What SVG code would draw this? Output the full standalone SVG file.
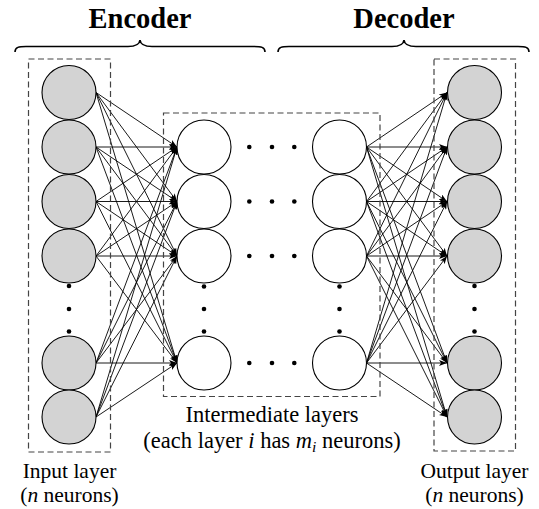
<svg xmlns="http://www.w3.org/2000/svg" width="539" height="509" viewBox="0 0 539 509">
<style>
.bg{fill:#fff}
.box{fill:none;stroke:#444;stroke-width:1.2;stroke-dasharray:6,3.5}
.in{fill:#d3d3d3;stroke:#000;stroke-width:1.1}
.mid{fill:#fff;stroke:#000;stroke-width:1.1}
.dot{fill:#000}
.edge{stroke:#000;stroke-width:0.9;fill:none;marker-end:url(#ah)}
.brace{fill:none;stroke:#000;stroke-width:1.6}
.title{font-family:"Liberation Serif",serif;font-weight:bold;font-size:28.5px;text-anchor:middle;fill:#000}
.lbl{font-family:"Liberation Serif",serif;font-size:21.5px;text-anchor:middle;fill:#000}
.lbl2{font-size:22.5px}
.m{font-style:italic}
</style>
<defs>
<marker id="ah" viewBox="0 0 8 6" refX="8" refY="3" markerWidth="8" markerHeight="6" markerUnits="userSpaceOnUse" orient="auto">
<path d="M0,0 L8,3 L0,6 L2,3 z" fill="#000"/>
</marker>
</defs>
<rect class="bg" width="539" height="509"/>

<g id="encoder-label">
<text class="title" x="140" y="27.5">Encoder</text>
<path class="brace" d="M15,52 C15,47 19,46.5 26,46.5 L128,46.5 C135,46.5 139.5,45 140,40 C140.5,45 145,46.5 152,46.5 L254,46.5 C261,46.5 265,47 265,52"/>
</g>
<g id="decoder-label">
<text class="title" x="404" y="27.5">Decoder</text>
<path class="brace" d="M278,52 C278,47 282,46.5 289,46.5 L392,46.5 C399,46.5 403.5,45 404,40 C404.5,45 409,46.5 416,46.5 L518,46.5 C525,46.5 529,47 529,52"/>
</g>

<g id="connectors">
<line class="edge" x1="96" y1="92.5" x2="177" y2="147"/>
<line class="edge" x1="96" y1="92.5" x2="177" y2="201.5"/>
<line class="edge" x1="96" y1="92.5" x2="177" y2="256"/>
<line class="edge" x1="96" y1="92.5" x2="177" y2="363"/>
<line class="edge" x1="96" y1="147" x2="177" y2="147"/>
<line class="edge" x1="96" y1="147" x2="177" y2="201.5"/>
<line class="edge" x1="96" y1="147" x2="177" y2="256"/>
<line class="edge" x1="96" y1="147" x2="177" y2="363"/>
<line class="edge" x1="96" y1="201.5" x2="177" y2="147"/>
<line class="edge" x1="96" y1="201.5" x2="177" y2="201.5"/>
<line class="edge" x1="96" y1="201.5" x2="177" y2="256"/>
<line class="edge" x1="96" y1="201.5" x2="177" y2="363"/>
<line class="edge" x1="96" y1="256" x2="177" y2="147"/>
<line class="edge" x1="96" y1="256" x2="177" y2="201.5"/>
<line class="edge" x1="96" y1="256" x2="177" y2="256"/>
<line class="edge" x1="96" y1="256" x2="177" y2="363"/>
<line class="edge" x1="96" y1="363" x2="177" y2="147"/>
<line class="edge" x1="96" y1="363" x2="177" y2="201.5"/>
<line class="edge" x1="96" y1="363" x2="177" y2="256"/>
<line class="edge" x1="96" y1="363" x2="177" y2="363"/>
<line class="edge" x1="96" y1="417" x2="177" y2="147"/>
<line class="edge" x1="96" y1="417" x2="177" y2="201.5"/>
<line class="edge" x1="96" y1="417" x2="177" y2="256"/>
<line class="edge" x1="96" y1="417" x2="177" y2="363"/>
<line class="edge" x1="366.5" y1="147" x2="447" y2="92.5"/>
<line class="edge" x1="366.5" y1="147" x2="447" y2="147"/>
<line class="edge" x1="366.5" y1="147" x2="447" y2="201.5"/>
<line class="edge" x1="366.5" y1="147" x2="447" y2="256"/>
<line class="edge" x1="366.5" y1="147" x2="447" y2="363"/>
<line class="edge" x1="366.5" y1="147" x2="447" y2="417"/>
<line class="edge" x1="366.5" y1="201.5" x2="447" y2="92.5"/>
<line class="edge" x1="366.5" y1="201.5" x2="447" y2="147"/>
<line class="edge" x1="366.5" y1="201.5" x2="447" y2="201.5"/>
<line class="edge" x1="366.5" y1="201.5" x2="447" y2="256"/>
<line class="edge" x1="366.5" y1="201.5" x2="447" y2="363"/>
<line class="edge" x1="366.5" y1="201.5" x2="447" y2="417"/>
<line class="edge" x1="366.5" y1="256" x2="447" y2="92.5"/>
<line class="edge" x1="366.5" y1="256" x2="447" y2="147"/>
<line class="edge" x1="366.5" y1="256" x2="447" y2="201.5"/>
<line class="edge" x1="366.5" y1="256" x2="447" y2="256"/>
<line class="edge" x1="366.5" y1="256" x2="447" y2="363"/>
<line class="edge" x1="366.5" y1="256" x2="447" y2="417"/>
<line class="edge" x1="366.5" y1="363" x2="447" y2="92.5"/>
<line class="edge" x1="366.5" y1="363" x2="447" y2="147"/>
<line class="edge" x1="366.5" y1="363" x2="447" y2="201.5"/>
<line class="edge" x1="366.5" y1="363" x2="447" y2="256"/>
<line class="edge" x1="366.5" y1="363" x2="447" y2="363"/>
<line class="edge" x1="366.5" y1="363" x2="447" y2="417"/>
</g>

<g id="input-layer">
<rect class="box" x="28.5" y="59" width="82" height="393"/>
<circle class="in" cx="69" cy="92.5" r="27"/>
<circle class="in" cx="69" cy="147" r="27"/>
<circle class="in" cx="69" cy="201.5" r="27"/>
<circle class="in" cx="69" cy="256" r="27"/>
<circle class="dot" cx="69" cy="286" r="2.3"/>
<circle class="dot" cx="69" cy="309" r="2.3"/>
<circle class="dot" cx="69" cy="331.5" r="2.3"/>
<circle class="in" cx="69" cy="363" r="27"/>
<circle class="in" cx="69" cy="417" r="27"/>
<text class="lbl" x="69.5" y="478">Input layer</text>
<text class="lbl" x="69.5" y="502">(<tspan class="m">n</tspan> neurons)</text>
</g>

<g id="intermediate-layers">
<rect class="box" x="163.5" y="113" width="216.5" height="283.5"/>
<circle class="mid" cx="204" cy="147" r="27"/>
<circle class="mid" cx="204" cy="201.5" r="27"/>
<circle class="mid" cx="204" cy="256" r="27"/>
<circle class="mid" cx="204" cy="363" r="27"/>
<circle class="mid" cx="339.5" cy="147" r="27"/>
<circle class="mid" cx="339.5" cy="201.5" r="27"/>
<circle class="mid" cx="339.5" cy="256" r="27"/>
<circle class="mid" cx="339.5" cy="363" r="27"/>
<circle class="dot" cx="204" cy="286.5" r="2.3"/>
<circle class="dot" cx="204" cy="309" r="2.3"/>
<circle class="dot" cx="204" cy="331.5" r="2.3"/>
<circle class="dot" cx="339.5" cy="286.5" r="2.3"/>
<circle class="dot" cx="339.5" cy="309" r="2.3"/>
<circle class="dot" cx="339.5" cy="331.5" r="2.3"/>
<circle class="dot" cx="249.3" cy="147" r="2.3"/>
<circle class="dot" cx="272" cy="147" r="2.3"/>
<circle class="dot" cx="294.3" cy="147" r="2.3"/>
<circle class="dot" cx="249.3" cy="201.5" r="2.3"/>
<circle class="dot" cx="272" cy="201.5" r="2.3"/>
<circle class="dot" cx="294.3" cy="201.5" r="2.3"/>
<circle class="dot" cx="249.3" cy="256" r="2.3"/>
<circle class="dot" cx="272" cy="256" r="2.3"/>
<circle class="dot" cx="294.3" cy="256" r="2.3"/>
<circle class="dot" cx="249.3" cy="363" r="2.3"/>
<circle class="dot" cx="272" cy="363" r="2.3"/>
<circle class="dot" cx="294.3" cy="363" r="2.3"/>
<text class="lbl lbl2" x="272" y="421.5">Intermediate layers</text>
<text class="lbl lbl2" x="272" y="448">(each layer <tspan class="m">i</tspan> has <tspan class="m">m</tspan><tspan class="m" font-size="15.5" dy="3.5">i</tspan><tspan dy="-3.5"> neurons)</tspan></text>
</g>

<g id="output-layer">
<rect class="box" x="434" y="59" width="81.5" height="392"/>
<circle class="in" cx="474.5" cy="92.5" r="27"/>
<circle class="in" cx="474.5" cy="147" r="27"/>
<circle class="in" cx="474.5" cy="201.5" r="27"/>
<circle class="in" cx="474.5" cy="256" r="27"/>
<circle class="dot" cx="474.5" cy="286" r="2.3"/>
<circle class="dot" cx="474.5" cy="309" r="2.3"/>
<circle class="dot" cx="474.5" cy="331.5" r="2.3"/>
<circle class="in" cx="474.5" cy="363" r="27"/>
<circle class="in" cx="474.5" cy="417" r="27"/>
<text class="lbl" x="474.5" y="478">Output layer</text>
<text class="lbl" x="474.5" y="502">(<tspan class="m">n</tspan> neurons)</text>
</g>
</svg>
